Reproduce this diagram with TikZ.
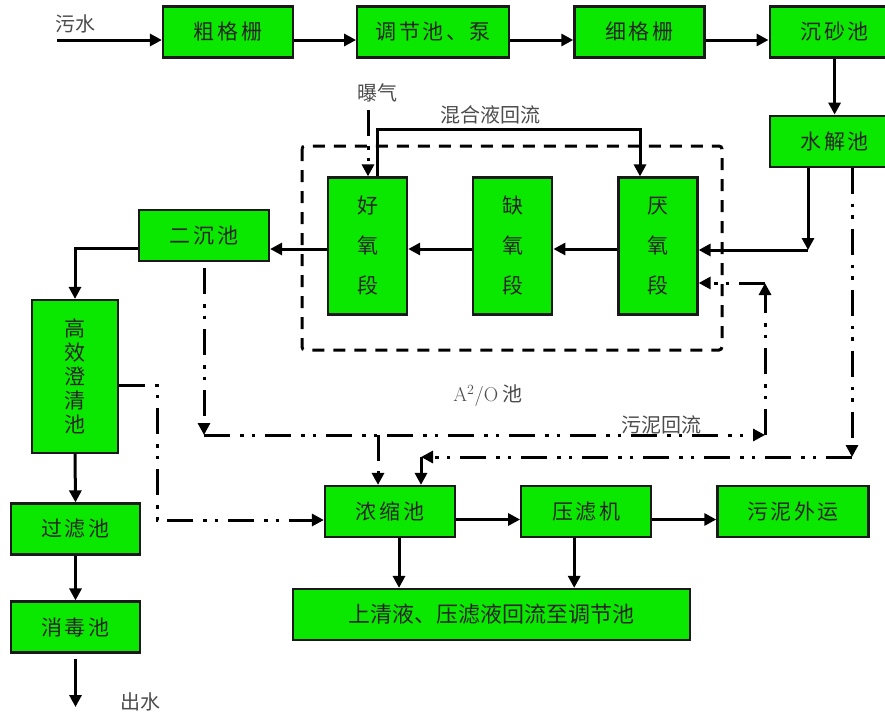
\documentclass[tikz,border=0pt]{standalone}
\usepackage{fontspec}
\newfontfamily\cjk{Noto Sans CJK SC}
\newfontfamily\cjkwide[LetterSpace=12]{Noto Sans CJK SC}
\usetikzlibrary{arrows.meta,positioning,calc}
\definecolor{boxgreen}{RGB}{10,232,0}
\tikzset{
  box/.style={draw=black!90, line width=2.2pt, fill=boxgreen, align=center, inner sep=0pt,
    minimum width=130pt, minimum height=51pt, text=black!85, font=\cjkwide\fontsize{21}{25}\selectfont},
  tallbox/.style={box, minimum width=79pt, minimum height=137pt, font=\cjk\fontsize{21}{40}\selectfont},
  note/.style={inner sep=0pt, text=black!70, font=\cjk\fontsize{20}{24}\selectfont},
  flow/.style={-{Triangle[length=12pt,width=12pt]}, line width=3pt},
  backflow/.style={flow, dash pattern=on 26pt off 10pt on 3.5pt off 8pt on 3.5pt off 10pt},
  frame/.style={line width=3pt, dash pattern=on 12pt off 9pt, rounded corners=3pt}
}

\begin{document}
\begin{tikzpicture}[x=1pt, y=-1pt, node distance=63pt]
\clip (0,0) rectangle (885,715);
\draw[frame] (302,146) rectangle (722,350);

\node[box] (cu) at (228,32) {粗格栅};
\node[box, minimum width=152pt, right=62pt of cu] (tiao) {调节池、泵};
\node[box, right=of tiao] (xi) {细格栅};
\node[box, right=of xi] (chensha) {沉砂池};
\node[box, below=56pt of chensha] (shuijie) {水解池};

\node[tallbox] (yanyang) at (658,246) {厌\\氧\\段};
\node[tallbox, left=64pt of yanyang] (queyang) {缺\\氧\\段};
\node[tallbox, left=64pt of queyang] (haoyang) {好\\氧\\段};
\node[box] (ercheng) at (204,235.5) {二沉池};

\node[box, minimum width=86pt, minimum height=153pt, font=\cjk\fontsize{21}{24}\selectfont] (gaoxiao) at (75,376.5) {高\\效\\澄\\清\\池};
\node[box, minimum width=129pt] (guolv) at (75.5,529) {过滤池};
\node[box, minimum width=129pt] (xiaodu) at (75.5,627) {消毒池};

\node[box] (nongsuo) at (390,511.5) {浓缩池};
\node[box, right=64pt of nongsuo] (yalv) {压滤机};
\node[box, minimum width=151pt, right=64pt of yalv] (waiyun) {污泥外运};
\node[box, minimum width=397pt, font=\cjk\fontsize{22}{25}\selectfont] (shangqing) at (491.5,614.5) {上清液、压滤液回流至调节池};

\node[note] (wushui) at (75,24) {污水};
\node[note] (pu) at (377,93) {曝气};
\node[note] (hunhe) at (490,115) {混合液回流};
\node[note] (a2o) at (488,396) {{\normalfont A\textsuperscript{2}/O} 池};
\node[note] (huiliu) at (661,425) {污泥回流};
\node[note] (chushui) at (140,702) {出水};

\coordinate (in) at (57,40);
\coordinate (out) at (75.5,707);
\coordinate (c1) at (808,250);
\coordinate (mix) at (640,129);
\coordinate (s1) at (204,435);
\coordinate (s2) at (765,435);
\coordinate (s3) at (765,283);
\coordinate (s4) at (378,435);
\coordinate (h1) at (852,457);
\coordinate (h2) at (421,457);
\coordinate (g1) at (157,385);
\coordinate (g2) at (157,520);

\draw[flow] (in) -- (in -| cu.west);
\draw[flow] ([yshift=-8pt]cu.east) -- ([yshift=-8pt]tiao.west);
\draw[flow] ([yshift=-8pt]tiao.east) -- ([yshift=-8pt]xi.west);
\draw[flow] ([yshift=-8pt]xi.east) -- ([yshift=-8pt]chensha.west);
\draw[flow] (chensha.south) -- (shuijie.north);
\draw[flow] (shuijie.south -| c1) -- (c1);
\draw[flow] (c1) -- (c1 -| yanyang.east);
\draw[flow] ([yshift=-3pt]yanyang.west) -- ([yshift=-3pt]queyang.east);
\draw[flow] ([yshift=-3pt]queyang.west) -- ([yshift=-3pt]haoyang.east);
\draw[flow] ([yshift=-3pt]haoyang.west) -- ([yshift=-3pt]haoyang.west -| ercheng.east);
\draw[flow] ([yshift=-13pt]ercheng.west) -| (gaoxiao.north);
\draw[flow] (gaoxiao.south) -- (guolv.north);
\draw[flow] (guolv.south) -- (xiaodu.north);
\draw[flow] ([yshift=-5pt]xiaodu.south) -- (out);
\draw[flow] ([xshift=10pt]haoyang.north) |- (mix) -- (mix |- yanyang.north);
\draw[backflow] ([xshift=-9pt,yshift=-8pt]pu.south) -- ([xshift=-9pt]pu.south |- haoyang.north);

\draw[backflow] ([yshift=-6pt]ercheng.south) -- (s1);
\draw[backflow] (s1) -- (s2);
\draw[backflow] (s2) -- (s3);
\draw[backflow] (s3) -- (s3 -| yanyang.east);
\draw[backflow] (s4) -- (s4 |- nongsuo.north);
\draw[backflow] (shuijie.south -| h1) -- (h1);
\draw[backflow] (h1) -- (h2);
\draw[flow] (h2) -- (h2 |- nongsuo.north);
\draw[backflow] (gaoxiao.east |- g1) -- (g1) -- (g2) -- (g2 -| nongsuo.west);

\draw[flow] ([yshift=-8pt]nongsuo.east) -- ([yshift=-8pt]yalv.west);
\draw[flow] ([yshift=-8pt]yalv.east) -- ([yshift=-8pt]waiyun.west);
\draw[flow] ([xshift=9pt]nongsuo.south) -- ([xshift=9pt]nongsuo.south |- shangqing.north);
\draw[flow] ([xshift=-12pt]yalv.south) -- ([xshift=-12pt]yalv.south |- shangqing.north);
\end{tikzpicture}
\end{document}
